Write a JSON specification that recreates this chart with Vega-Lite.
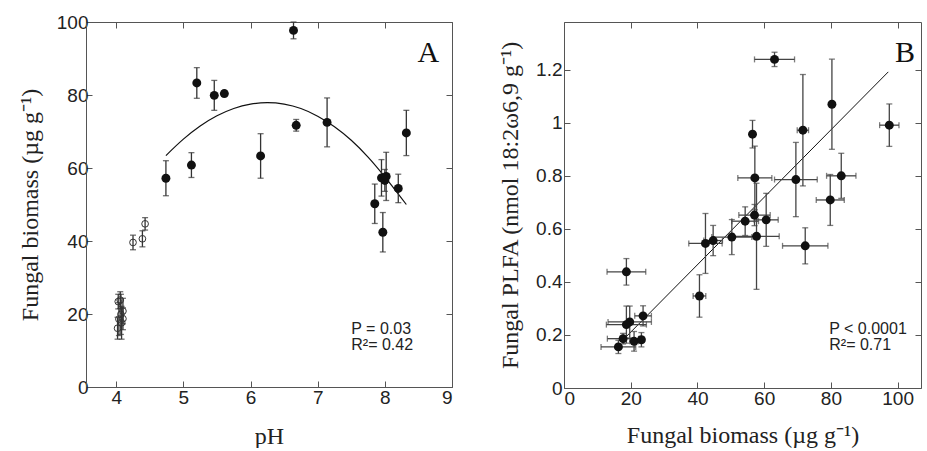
{
  "$schema": "https://vega.github.io/schema/vega-lite/v6.json",
  "background": "white",
  "padding": {"left": 18, "top": 13, "right": 0, "bottom": 0},
  "spacing": 45,
  "config": {
    "view": {"stroke": null},
    "axis": {
      "grid": false,
      "domainColor": "#555",
      "tickColor": "#555",
      "tickSize": -6,
      "labelPadding": 7,
      "labelFont": "Liberation Sans",
      "labelFontSize": 19,
      "labelColor": "#222",
      "titleFont": "Liberation Serif",
      "titleFontSize": 24,
      "titleFontWeight": "normal",
      "titleColor": "#222"
    }
  },
  "datasets": {
    "A": [
      {"pH": 4.74, "biomass": 57.2, "se": 4.8, "kind": "filled"},
      {"pH": 5.12, "biomass": 60.8, "se": 3.4, "kind": "filled"},
      {"pH": 5.20, "biomass": 83.3, "se": 4.2, "kind": "filled"},
      {"pH": 5.46, "biomass": 79.9, "se": 4.1, "kind": "filled"},
      {"pH": 5.61, "biomass": 80.4, "se": 0.8, "kind": "filled"},
      {"pH": 6.15, "biomass": 63.3, "se": 6.1, "kind": "filled"},
      {"pH": 6.64, "biomass": 97.7, "se": 2.3, "kind": "filled"},
      {"pH": 6.68, "biomass": 71.7, "se": 1.6, "kind": "filled"},
      {"pH": 7.14, "biomass": 72.5, "se": 6.7, "kind": "filled"},
      {"pH": 7.85, "biomass": 50.2, "se": 5.4, "kind": "filled"},
      {"pH": 7.95, "biomass": 57.3, "se": 5.0, "kind": "filled"},
      {"pH": 7.97, "biomass": 42.4, "se": 5.4, "kind": "filled"},
      {"pH": 8.00, "biomass": 56.6, "se": 3.0, "kind": "filled"},
      {"pH": 8.02, "biomass": 57.7, "se": 6.6, "kind": "filled"},
      {"pH": 8.20, "biomass": 54.4, "se": 3.9, "kind": "filled"},
      {"pH": 8.32, "biomass": 69.6, "se": 6.2, "kind": "filled"},
      {"pH": 4.25, "biomass": 39.6, "se": 2.0, "kind": "open"},
      {"pH": 4.39, "biomass": 40.6, "se": 2.2, "kind": "open"},
      {"pH": 4.43, "biomass": 44.7, "se": 1.7, "kind": "open"},
      {"pH": 4.03, "biomass": 23.4, "se": 2.0, "kind": "open"},
      {"pH": 4.06, "biomass": 23.8, "se": 2.3, "kind": "open"},
      {"pH": 4.02, "biomass": 16.1, "se": 3.0, "kind": "open"},
      {"pH": 4.04, "biomass": 18.6, "se": 4.5, "kind": "open"},
      {"pH": 4.10, "biomass": 20.8, "se": 3.5, "kind": "open"},
      {"pH": 4.10, "biomass": 18.7, "se": 3.0, "kind": "open"},
      {"pH": 4.08, "biomass": 17.6, "se": 4.5, "kind": "open"},
      {"pH": 4.07, "biomass": 19.9, "se": 5.5, "kind": "open"}
    ],
    "curveA": [
      {"pH": 4.74, "biomass": 63.4},
      {"pH": 5.0, "biomass": 67.9},
      {"pH": 5.25, "biomass": 71.5},
      {"pH": 5.5, "biomass": 74.3},
      {"pH": 5.75, "biomass": 76.3},
      {"pH": 6.0, "biomass": 77.5},
      {"pH": 6.25, "biomass": 77.9},
      {"pH": 6.5, "biomass": 77.5},
      {"pH": 6.75, "biomass": 76.3},
      {"pH": 7.0, "biomass": 74.2},
      {"pH": 7.25, "biomass": 71.3},
      {"pH": 7.5, "biomass": 67.6},
      {"pH": 7.75, "biomass": 63.0},
      {"pH": 8.0, "biomass": 57.6},
      {"pH": 8.32, "biomass": 50.0}
    ],
    "B": [
      {"fb": 63.1, "plfa": 1.239, "xse": 6.0, "yse": 0.027},
      {"fb": 80.3, "plfa": 1.070, "xse": 0.6, "yse": 0.17},
      {"fb": 71.6, "plfa": 0.972, "xse": 1.7, "yse": 0.21},
      {"fb": 97.5, "plfa": 0.991, "xse": 2.9, "yse": 0.08},
      {"fb": 56.5, "plfa": 0.957, "xse": 0.6, "yse": 0.052},
      {"fb": 57.2, "plfa": 0.792, "xse": 5.1, "yse": 0.12},
      {"fb": 69.5, "plfa": 0.786, "xse": 6.4, "yse": 0.14},
      {"fb": 83.1, "plfa": 0.800, "xse": 4.4, "yse": 0.085},
      {"fb": 79.8, "plfa": 0.709, "xse": 4.2, "yse": 0.096},
      {"fb": 57.1, "plfa": 0.652, "xse": 4.7, "yse": 0.04},
      {"fb": 54.3, "plfa": 0.629, "xse": 4.0, "yse": 0.054},
      {"fb": 60.6, "plfa": 0.634, "xse": 3.6, "yse": 0.1},
      {"fb": 57.7, "plfa": 0.572, "xse": 6.8, "yse": 0.2},
      {"fb": 50.3, "plfa": 0.569, "xse": 6.0, "yse": 0.066},
      {"fb": 44.7, "plfa": 0.556, "xse": 2.8, "yse": 0.057},
      {"fb": 42.4, "plfa": 0.545, "xse": 5.0, "yse": 0.113},
      {"fb": 72.3, "plfa": 0.536, "xse": 6.8, "yse": 0.068},
      {"fb": 18.7, "plfa": 0.438, "xse": 5.8, "yse": 0.05},
      {"fb": 40.6, "plfa": 0.347, "xse": 1.9, "yse": 0.08},
      {"fb": 23.7, "plfa": 0.272, "xse": 2.5, "yse": 0.038},
      {"fb": 19.7, "plfa": 0.249, "xse": 6.5, "yse": 0.06},
      {"fb": 18.7, "plfa": 0.239, "xse": 6.0, "yse": 0.07},
      {"fb": 17.7, "plfa": 0.186, "xse": 4.7, "yse": 0.02},
      {"fb": 16.3, "plfa": 0.155, "xse": 5.2, "yse": 0.025},
      {"fb": 21.0, "plfa": 0.176, "xse": 1.3, "yse": 0.037},
      {"fb": 23.2, "plfa": 0.182, "xse": 0.8, "yse": 0.027}
    ],
    "lineB": [
      {"fb": 17.9, "plfa": 0.184},
      {"fb": 97.2, "plfa": 1.192}
    ]
  },
  "hconcat": [
    {
      "width": 366,
      "height": 365,
      "resolve": {"axis": {"x": "independent", "y": "independent"}},
      "layer": [
        {
          "data": {"name": "curveA"},
          "mark": {"type": "line", "color": "#111", "strokeWidth": 1.2, "interpolate": "monotone"},
          "encoding": {
            "x": {"field": "pH", "type": "quantitative", "scale": {"domain": [3.55, 9], "nice": false, "zero": false},
              "axis": {"orient": "bottom", "values": [4, 5, 6, 7, 8, 9], "title": "pH", "titlePadding": 17}},
            "y": {"field": "biomass", "type": "quantitative", "scale": {"domain": [0, 100], "nice": false},
              "axis": {"orient": "left", "values": [0, 20, 40, 60, 80, 100], "title": "Fungal biomass (µg g⁻¹)", "titlePadding": 14, "labelPadding": 4}}
          }
        },
        {
          "data": {"name": "A"},
          "mark": {"type": "errorbar", "ticks": {"size": 6}, "color": "#333", "thickness": 1.3},
          "encoding": {
            "x": {"field": "pH", "type": "quantitative",
              "axis": {"orient": "top", "values": [4, 5, 6, 7, 8, 9], "labels": false, "title": null}},
            "y": {"field": "biomass", "type": "quantitative",
              "axis": {"orient": "right", "values": [0, 20, 40, 60, 80, 100], "labels": false, "title": null}},
            "yError": {"field": "se"}
          }
        },
        {
          "data": {"name": "A"},
          "transform": [{"filter": "datum.kind === 'filled'"}],
          "mark": {"type": "point", "filled": true, "color": "#111", "size": 80, "opacity": 1},
          "encoding": {
            "x": {"field": "pH", "type": "quantitative", "axis": null},
            "y": {"field": "biomass", "type": "quantitative", "axis": null}
          }
        },
        {
          "data": {"name": "A"},
          "transform": [{"filter": "datum.kind === 'open'"}],
          "mark": {"type": "point", "filled": false, "color": "#333", "size": 45, "strokeWidth": 1, "opacity": 1},
          "encoding": {
            "x": {"field": "pH", "type": "quantitative", "axis": null},
            "y": {"field": "biomass", "type": "quantitative", "axis": null}
          }
        },
        {
          "data": {"values": [{}]},
          "mark": {"type": "text", "align": "right", "baseline": "alphabetic", "font": "Liberation Serif", "fontSize": 30, "color": "#111"},
          "encoding": {
            "x": {"datum": 8.81, "type": "quantitative", "axis": null},
            "y": {"datum": 89, "type": "quantitative", "axis": null},
            "text": {"value": "A"}
          }
        },
        {
          "data": {"values": [{}]},
          "mark": {"type": "text", "align": "left", "baseline": "alphabetic", "font": "Liberation Sans", "fontSize": 16, "color": "#222"},
          "encoding": {
            "x": {"datum": 7.5, "type": "quantitative", "axis": null},
            "y": {"datum": 14.5, "type": "quantitative", "axis": null},
            "text": {"value": "P = 0.03"}
          }
        },
        {
          "data": {"values": [{}]},
          "mark": {"type": "text", "align": "left", "baseline": "alphabetic", "font": "Liberation Sans", "fontSize": 16, "color": "#222"},
          "encoding": {
            "x": {"datum": 7.5, "type": "quantitative", "axis": null},
            "y": {"datum": 10.2, "type": "quantitative", "axis": null},
            "text": {"value": "R²= 0.42"}
          }
        }
      ]
    },
    {
      "width": 357,
      "height": 366,
      "resolve": {"axis": {"x": "independent", "y": "independent"}},
      "layer": [
        {
          "data": {"name": "lineB"},
          "mark": {"type": "line", "color": "#111", "strokeWidth": 1},
          "encoding": {
            "x": {"field": "fb", "type": "quantitative", "scale": {"domain": [0, 107], "nice": false},
              "axis": {"orient": "bottom", "values": [0, 20, 40, 60, 80, 100], "title": "Fungal biomass (µg g⁻¹)", "titlePadding": 15}},
            "y": {"field": "plfa", "type": "quantitative", "scale": {"domain": [0, 1.38], "nice": false},
              "axis": {"orient": "left", "values": [0, 0.2, 0.4, 0.6, 0.8, 1, 1.2], "format": "~g", "title": "Fungal PLFA (nmol 18:2ω6,9 g⁻¹)", "titlePadding": 13, "labelPadding": 8}}
          }
        },
        {
          "data": {"name": "B"},
          "mark": {"type": "errorbar", "ticks": {"size": 6}, "color": "#444", "thickness": 1.3},
          "encoding": {
            "x": {"field": "fb", "type": "quantitative",
              "axis": {"orient": "top", "values": [0, 20, 40, 60, 80, 100], "labels": false, "title": null}},
            "y": {"field": "plfa", "type": "quantitative", "axis": null},
            "yError": {"field": "yse"}
          }
        },
        {
          "data": {"name": "B"},
          "mark": {"type": "errorbar", "ticks": {"size": 6}, "color": "#444", "thickness": 1.3},
          "encoding": {
            "y": {"field": "plfa", "type": "quantitative",
              "axis": {"orient": "right", "values": [0, 0.2, 0.4, 0.6, 0.8, 1, 1.2], "labels": false, "title": null}},
            "x": {"field": "fb", "type": "quantitative", "axis": null},
            "xError": {"field": "xse"}
          }
        },
        {
          "data": {"name": "B"},
          "mark": {"type": "point", "filled": true, "color": "#111", "size": 80, "opacity": 1},
          "encoding": {
            "x": {"field": "fb", "type": "quantitative", "axis": null},
            "y": {"field": "plfa", "type": "quantitative", "axis": null}
          }
        },
        {
          "data": {"values": [{}]},
          "mark": {"type": "text", "align": "right", "baseline": "alphabetic", "font": "Liberation Serif", "fontSize": 30, "color": "#111"},
          "encoding": {
            "x": {"datum": 105.2, "type": "quantitative", "axis": null},
            "y": {"datum": 1.23, "type": "quantitative", "axis": null},
            "text": {"value": "B"}
          }
        },
        {
          "data": {"values": [{}]},
          "mark": {"type": "text", "align": "left", "baseline": "alphabetic", "font": "Liberation Sans", "fontSize": 16, "color": "#222"},
          "encoding": {
            "x": {"datum": 79.5, "type": "quantitative", "axis": null},
            "y": {"datum": 0.202, "type": "quantitative", "axis": null},
            "text": {"value": "P < 0.0001"}
          }
        },
        {
          "data": {"values": [{}]},
          "mark": {"type": "text", "align": "left", "baseline": "alphabetic", "font": "Liberation Sans", "fontSize": 16, "color": "#222"},
          "encoding": {
            "x": {"datum": 79.5, "type": "quantitative", "axis": null},
            "y": {"datum": 0.142, "type": "quantitative", "axis": null},
            "text": {"value": "R²= 0.71"}
          }
        }
      ]
    }
  ]
}
